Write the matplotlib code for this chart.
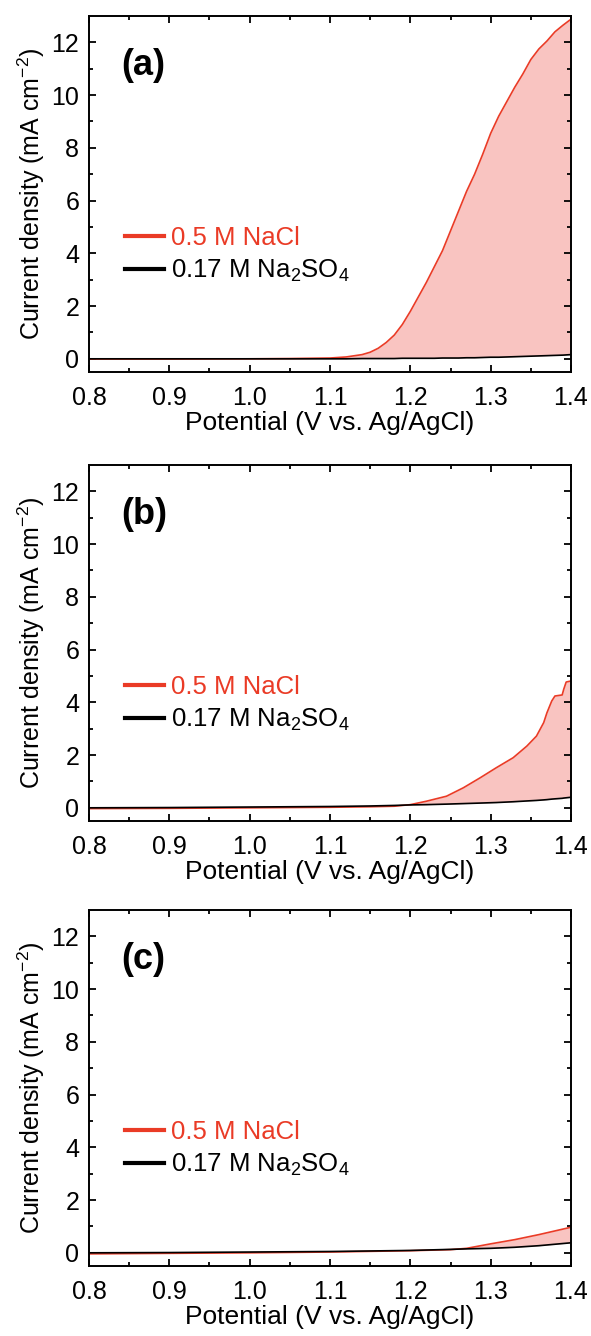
import matplotlib
matplotlib.use("Agg")
import matplotlib.pyplot as plt
from matplotlib.lines import Line2D

plt.rcParams["font.family"] = ["Liberation Sans", "DejaVu Sans"]
plt.rcParams["mathtext.fontset"] = "custom"
plt.rcParams["mathtext.rm"] = "Liberation Sans"
plt.rcParams["mathtext.it"] = "Liberation Sans:italic"
plt.rcParams["mathtext.bf"] = "Liberation Sans:bold"

# ---- LSV data (potential in V vs. Ag/AgCl, current density in mA cm^-2) ----
potential_a = [0.80, 0.90, 1.00, 1.05, 1.10, 1.12, 1.14, 1.15, 1.16, 1.17, 1.18,
               1.19, 1.20, 1.21, 1.22, 1.23, 1.24, 1.25, 1.26, 1.27, 1.28, 1.29,
               1.30, 1.31, 1.32, 1.33, 1.34, 1.35, 1.36, 1.37, 1.38, 1.39, 1.40]
nacl_a = [-0.01, -0.01, 0.0, 0.01, 0.03, 0.07, 0.16, 0.25, 0.40, 0.62, 0.90,
          1.30, 1.80, 2.35, 2.90, 3.50, 4.10, 4.85, 5.60, 6.35, 7.00, 7.75,
          8.55, 9.20, 9.75, 10.30, 10.80, 11.35, 11.75, 12.05, 12.40, 12.65, 12.88]
na2so4_a = [0.0, 0.0, 0.0, 0.0, 0.0, 0.0, 0.01, 0.01, 0.01, 0.01, 0.01,
            0.02, 0.02, 0.02, 0.02, 0.02, 0.03, 0.03, 0.03, 0.04, 0.04, 0.05,
            0.06, 0.06, 0.07, 0.08, 0.09, 0.10, 0.11, 0.12, 0.13, 0.14, 0.16]

potential_b = [0.80, 0.90, 1.00, 1.10, 1.15, 1.18, 1.20, 1.22, 1.245, 1.266, 1.287,
               1.307, 1.328, 1.345, 1.357, 1.366, 1.370, 1.376, 1.380, 1.389, 1.391,
               1.394, 1.40]
nacl_b = [-0.03, -0.02, 0.0, 0.02, 0.04, 0.06, 0.12, 0.25, 0.44, 0.76, 1.14,
          1.52, 1.90, 2.34, 2.72, 3.23, 3.60, 4.05, 4.24, 4.28, 4.50,
          4.77, 4.81]
na2so4_b = [0.0, 0.01, 0.03, 0.05, 0.07, 0.09, 0.11, 0.12, 0.14, 0.16, 0.18,
            0.20, 0.23, 0.26, 0.28, 0.30, 0.31, 0.33, 0.34, 0.36, 0.37,
            0.38, 0.40]

potential_c = [0.80, 0.90, 1.00, 1.10, 1.20, 1.25, 1.27, 1.30, 1.33, 1.36, 1.40]
nacl_c = [-0.04, -0.02, 0.0, 0.03, 0.08, 0.12, 0.17, 0.34, 0.50, 0.69, 0.97]
na2so4_c = [0.0, 0.01, 0.03, 0.05, 0.09, 0.13, 0.15, 0.17, 0.21, 0.27, 0.38]

panel_labels = ["(a)", "(b)", "(c)"]
legend_labels = ["0.5 M NaCl", "0.17 M Na$\\mathregular{_2}$SO$\\mathregular{_4}$"]
x_ticks = [0.8, 0.9, 1.0, 1.1, 1.2, 1.3, 1.4]
y_ticks = [0, 2, 4, 6, 8, 10, 12]

RED = "#EA3B26"
FILL = "#F9C4C1"

panels = [
    (potential_a, nacl_a, na2so4_a),
    (potential_b, nacl_b, na2so4_b),
    (potential_c, nacl_c, na2so4_c),
]

W, H = 591, 1336
fig = plt.figure(figsize=(W / 100, H / 100), dpi=100)

left_px, right_px = 89, 571
tops_px = [16, 465, 910]
height_px = 356

for i, (pot, red, blk) in enumerate(panels):
    top = tops_px[i]
    ax = fig.add_axes([left_px / W, 1 - (top + height_px) / H,
                       (right_px - left_px) / W, height_px / H])
    ax.fill_between(pot, blk, red, where=[r > b for r, b in zip(red, blk)],
                    interpolate=True, color=FILL, lw=0, zorder=1)
    ax.plot(pot, blk, color="black", lw=1.2, zorder=3)
    ax.plot(pot, red, color=RED, lw=1.2, zorder=2)

    ax.set_xlim(0.8, 1.4)
    ax.set_ylim(-0.5, 13)
    ax.set_xticks(x_ticks)
    ax.set_xticklabels([f"{v:.1f}" for v in x_ticks])
    ax.set_xticks([0.85, 0.95, 1.05, 1.15, 1.25, 1.35], minor=True)
    ax.set_yticks(y_ticks)
    ax.set_yticks([1, 3, 5, 7, 9, 11], minor=True)
    ax.tick_params(which="both", direction="in", top=True, right=True,
                   width=1.3, labelsize=18, colors="black")
    ax.tick_params(which="major", length=5, pad=7)
    ax.tick_params(axis="x", which="major", pad=10)
    ax.tick_params(which="minor", length=3)
    for s in ax.spines.values():
        s.set_linewidth(1.4)

    ax.set_xlabel("Potential (V vs. Ag/AgCl)", fontsize=19, labelpad=1)
    ax.set_ylabel("Current density (mA cm$\\mathregular{^{-2}}$)", fontsize=18,
                  labelpad=3)

    ax.text(0.066, 0.86, panel_labels[i], transform=ax.transAxes,
            fontsize=26, fontweight="bold", ha="left", va="center")

    handles = [Line2D([], [], color=RED, lw=3),
               Line2D([], [], color="black", lw=3)]
    leg = ax.legend(handles, legend_labels, loc="upper left",
                    bbox_to_anchor=(0.075, 0.41), frameon=False,
                    fontsize=18.5, handlelength=1.5, handletextpad=0.3,
                    labelspacing=0.3, borderpad=0, borderaxespad=0)
    leg.get_texts()[0].set_color(RED)

fig.savefig("out.png", dpi=100)
